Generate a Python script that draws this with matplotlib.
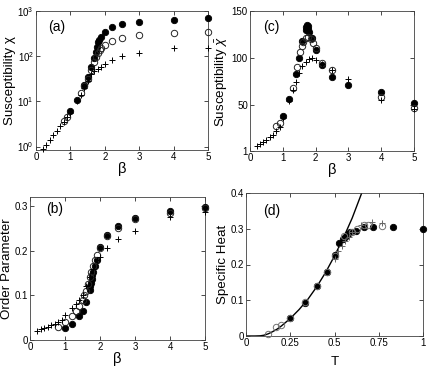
import matplotlib
matplotlib.use("Agg")
import matplotlib.pyplot as plt
from matplotlib.ticker import NullLocator

plt.rcParams['font.family'] = ['Liberation Sans', 'DejaVu Sans']
plt.rcParams['mathtext.fontset'] = 'custom'
plt.rcParams['mathtext.rm'] = 'Liberation Sans'
plt.rcParams['mathtext.it'] = 'Liberation Sans:italic'

# ---------------- (a) susceptibility chi (log) ----------------
a_filled_beta = [1.0, 1.2, 1.4, 1.5, 1.6, 1.7, 1.74, 1.78, 1.8, 1.84, 1.88, 2.0, 2.2, 2.5, 3.0, 4.0, 5.0]
a_filled_chi = [6.0, 11, 23, 35, 57, 91, 126, 162, 204, 230, 260, 340, 440, 505, 565, 630, 690]
a_open_beta = [0.8, 0.9, 1.3, 1.4, 1.5, 1.6, 1.7, 1.75, 1.8, 1.85, 1.9, 2.0, 2.2, 2.5, 3.0, 4.0, 5.0]
a_open_chi = [3.7, 4.5, 15, 22, 32, 50, 75, 95, 115, 135, 150, 175, 215, 250, 290, 325, 340]
a_plus_beta = [0.2, 0.3, 0.4, 0.5, 0.6, 0.7, 0.8, 0.9, 1.0, 1.2, 1.3, 1.4, 1.5, 1.6, 1.7, 1.8, 1.9, 2.0, 2.2, 2.5, 3.0, 4.0, 5.0]
a_plus_chi = [0.89, 1.1, 1.4, 1.8, 2.2, 2.8, 3.5, 4.4, 5.5, 10, 14, 20, 28, 40, 46, 52, 58, 66, 82, 100, 118, 148, 155]

# ---------------- (c) susceptibility chi-bar (linear) ----------------
c_filled_beta = [1.0, 1.2, 1.4, 1.5, 1.6, 1.7, 1.72, 1.74, 1.76, 1.78, 1.8, 1.9, 2.0, 2.2, 2.5, 3.0, 4.0, 5.0]
c_filled_chi = [38, 56, 83, 100, 118, 130, 133, 135, 134, 131, 128, 121, 108, 92, 80, 71, 64, 52]
c_open_beta = [0.8, 0.9, 1.3, 1.43, 1.53, 1.58, 1.63, 1.71, 1.78, 1.85, 1.91, 2.0, 2.2, 2.5, 4.0, 5.0]
c_open_chi = [28, 31, 68, 90, 106, 113, 117, 121, 122, 120, 116, 111, 95, 87, 58, 47]
c_plus_beta = [0.2, 0.3, 0.4, 0.5, 0.6, 0.7, 0.8, 0.9, 1.0, 1.2, 1.3, 1.4, 1.5, 1.6, 1.7, 1.8, 1.9, 2.0, 2.2, 2.5, 3.0, 4.0, 5.0]
c_plus_chi = [6.5, 8.5, 11, 13, 15.5, 18.5, 22, 27, 36, 54, 66, 74, 84, 91, 96, 99, 100, 98, 94, 87, 78, 55, 46]

# ---------------- (b) order parameter ----------------
b_filled_beta = [1.0, 1.2, 1.4, 1.5, 1.6, 1.7, 1.72, 1.74, 1.76, 1.78, 1.8, 1.85, 1.9, 2.0, 2.2, 2.5, 3.0, 4.0, 5.0]
b_filled_m = [0.027, 0.036, 0.053, 0.066, 0.085, 0.112, 0.12, 0.128, 0.136, 0.145, 0.152, 0.165, 0.18, 0.209, 0.234, 0.254, 0.272, 0.288, 0.298]
b_open_beta = [0.8, 1.0, 1.2, 1.3, 1.4, 1.5, 1.55, 1.6, 1.65, 1.7, 1.75, 1.8, 1.85, 1.9, 2.0, 2.2, 2.5, 3.0, 4.0, 5.0]
b_open_m = [0.03, 0.04, 0.053, 0.065, 0.075, 0.09, 0.1, 0.11, 0.126, 0.14, 0.152, 0.165, 0.178, 0.19, 0.205, 0.232, 0.25, 0.27, 0.285, 0.295]
b_plus_beta = [0.2, 0.3, 0.4, 0.5, 0.6, 0.7, 0.8, 0.9, 1.0, 1.2, 1.3, 1.4, 1.5, 1.6, 1.7, 1.8, 1.9, 2.0, 2.2, 2.5, 3.0, 4.0, 5.0]
b_plus_m = [0.021, 0.024, 0.027, 0.030, 0.033, 0.036, 0.040, 0.045, 0.056, 0.072, 0.08, 0.09, 0.1, 0.12, 0.14, 0.16, 0.18, 0.185, 0.205, 0.226, 0.245, 0.276, 0.287]

# ---------------- (d) specific heat ----------------
d_filled_T = [0.25, 0.333, 0.4, 0.455, 0.5, 0.528, 0.547, 0.56, 0.575, 0.589, 0.623, 0.664, 0.715, 0.83, 1.0]
d_filled_C = [0.049, 0.093, 0.139, 0.18, 0.226, 0.259, 0.27, 0.277, 0.285, 0.291, 0.294, 0.305, 0.304, 0.305, 0.299]
d_open_T = [0.125, 0.167, 0.196, 0.25, 0.333, 0.4, 0.455, 0.5, 0.556, 0.6, 0.625, 0.665, 0.69, 0.768]
d_open_C = [0.005, 0.025, 0.032, 0.05, 0.096, 0.14, 0.18, 0.225, 0.28, 0.292, 0.3, 0.31, 0.31, 0.307]
d_plus_T = [0.5, 0.52, 0.54, 0.56, 0.58, 0.6, 0.65, 0.71, 0.77]
d_plus_C = [0.215, 0.238, 0.252, 0.265, 0.277, 0.29, 0.31, 0.319, 0.316]
d_curve_T = [0.0, 0.05, 0.08, 0.1, 0.125, 0.15, 0.175, 0.2, 0.25, 0.3, 0.35, 0.4, 0.45, 0.5, 0.55, 0.6, 0.65, 0.66]
d_curve_C = [0.0, 0.0, 0.0005, 0.002, 0.006, 0.012, 0.019, 0.028, 0.049, 0.074, 0.103, 0.138, 0.178, 0.224, 0.274, 0.33, 0.395, 0.41]

W, H = 436, 368
fig = plt.figure(figsize=(W / 100, H / 100), dpi=100)


def box(l, t, r, b):
    return [l / W, 1 - b / H, (r - l) / W, (b - t) / H]


ax_a = fig.add_axes(box(36, 11, 208, 150))
ax_c = fig.add_axes(box(250, 11, 414, 151))
ax_b = fig.add_axes(box(30, 197, 205, 340))
ax_d = fig.add_axes(box(246, 193, 423, 336))

fk = dict(ls='none', marker='o', ms=4.6, mfc='black', mec='black', mew=0.6, clip_on=False, zorder=3)
ok = dict(ls='none', marker='o', ms=4.6, mfc='none', mec='0.15', mew=0.7, clip_on=False, zorder=4)
pk = dict(ls='none', marker='+', ms=5, color='black', mew=0.7, clip_on=False, zorder=5)

LFS = 9.6


def style(ax):
    ax.tick_params(direction='in', top=True, right=True, length=3, width=0.5,
                   labelsize=7, pad=1.5)
    for s in ax.spines.values():
        s.set_linewidth(0.6)
        s.set_color('0.25')


# (a)
ax_a.plot(a_plus_beta, a_plus_chi, **pk)
ax_a.plot(a_open_beta, a_open_chi, **ok)
ax_a.plot(a_filled_beta, a_filled_chi, **fk)
ax_a.set_yscale('log')
ax_a.set_xlim(0, 5)
ax_a.set_ylim(0.84, 1000)
ax_a.yaxis.set_minor_locator(NullLocator())
ax_a.set_xticks([0, 1, 2, 3, 4, 5])
ax_a.set_ylabel('Susceptibility χ', fontsize=LFS, labelpad=1)
ax_a.set_xlabel('β', fontsize=LFS + 1, labelpad=0)
ax_a.text(0.07, 0.885, '(a)', transform=ax_a.transAxes, fontsize=10, va='center')
style(ax_a)

# (c)
ax_c.plot(c_plus_beta, c_plus_chi, **pk)
ax_c.plot(c_open_beta, c_open_chi, **ok)
ax_c.plot(c_filled_beta, c_filled_chi, **fk)
ax_c.set_xlim(0, 5)
ax_c.set_ylim(1, 150)
ax_c.set_xticks([0, 1, 2, 3, 4, 5])
ax_c.set_yticks([1, 50, 100, 150])
ax_c.set_ylabel(r'Susceptibility $\bar{\chi}$', fontsize=LFS, labelpad=1)
ax_c.set_xlabel('β', fontsize=LFS + 1, labelpad=0)
ax_c.text(0.08, 0.886, '(c)', transform=ax_c.transAxes, fontsize=10, va='center')
style(ax_c)

# (b)
ax_b.plot(b_plus_beta, b_plus_m, **pk)
ax_b.plot(b_open_beta, b_open_m, **ok)
ax_b.plot(b_filled_beta, b_filled_m, **fk)
ax_b.set_xlim(0, 5)
ax_b.set_ylim(0, 0.32)
ax_b.set_xticks([0, 1, 2, 3, 4, 5])
ax_b.set_yticks([0, 0.1, 0.2, 0.3])
ax_b.set_yticklabels(['0', '0.1', '0.2', '0.3'])
ax_b.set_ylabel('Order Parameter', fontsize=LFS, labelpad=1)
ax_b.set_xlabel('β', fontsize=LFS + 1, labelpad=0)
ax_b.text(0.09, 0.916, '(b)', transform=ax_b.transAxes, fontsize=10, va='center')
style(ax_b)

# (d)
ax_d.plot(d_curve_T, d_curve_C, color='black', lw=1.0, zorder=2)
ok_d = dict(ok)
ok_d['mec'] = '0.45'
pk_d = dict(pk)
pk_d['color'] = '0.4'
ax_d.plot(d_open_T, d_open_C, **ok_d)
ax_d.plot(d_plus_T, d_plus_C, **pk_d)
ax_d.plot(d_filled_T, d_filled_C, **fk)
ax_d.set_xlim(0, 1)
ax_d.set_ylim(0, 0.4)
ax_d.set_xticks([0, 0.25, 0.5, 0.75, 1])
ax_d.set_xticklabels(['0', '0.25', '0.5', '0.75', '1'])
ax_d.set_yticks([0, 0.1, 0.2, 0.3, 0.4])
ax_d.set_yticklabels(['0', '0.1', '0.2', '0.3', '0.4'])
ax_d.set_ylabel('Specific Heat', fontsize=LFS, labelpad=1)
ax_d.set_xlabel('T', fontsize=LFS, labelpad=6)
ax_d.text(0.096, 0.876, '(d)', transform=ax_d.transAxes, fontsize=10, va='center')
style(ax_d)

fig.savefig('out.png', dpi=100)
